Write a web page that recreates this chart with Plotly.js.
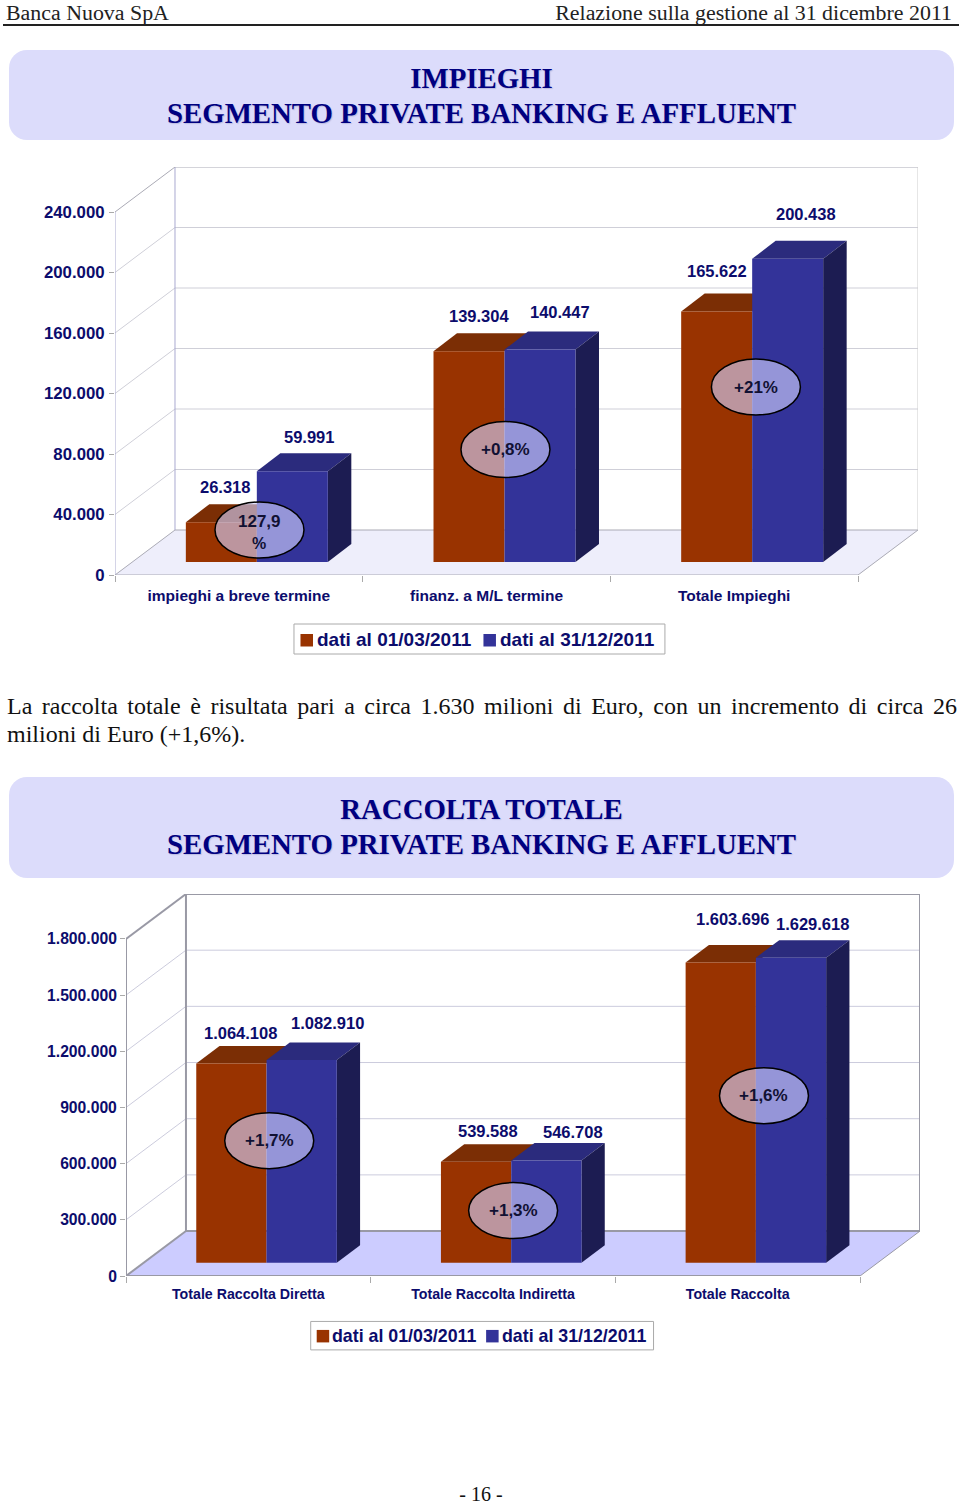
<!DOCTYPE html>
<html>
<head>
<meta charset="utf-8">
<script src="https://cdn.plot.ly/plotly-3.0.1.min.js"></script>
<style>
html, body { margin: 0; padding: 0; background: #fff; }
#page { position: relative; width: 960px; height: 1506px; overflow: hidden; font-family: "Liberation Serif", serif; color: #111; }
#page > div { position: absolute; }
.head { top: 1.5px; font-size: 21.9px; line-height: 22px; color: #222; }
.rule { left: 3px; right: 1px; top: 24px; height: 1.5px; background: #222; }
.banner { left: 9px; width: 945px; background: #dcdcfb; border-radius: 18px; text-align: center; color: #000080; font-weight: bold; font-size: 28.8px; line-height: 35px; text-shadow: 1px 1px 1px rgba(60,60,120,.2); box-sizing: border-box; }
.body { left: 7px; width: 950px; font-size: 24px; line-height: 27px; white-space: nowrap; }
.plot { left: 0; width: 960px; }
</style>
</head>
<body>
<div id="page">
  <div class="head" style="left:6px">Banca Nuova SpA</div>
  <div class="head" style="right:8px">Relazione sulla gestione al 31 dicembre 2011</div>
  <div class="rule"></div>
  <div class="banner" style="top:50px;height:90px;padding-top:11px">IMPIEGHI<br>SEGMENTO PRIVATE BANKING E AFFLUENT</div>
  <div class="plot" id="chart1" style="top:150px;height:520px"></div>
  <div class="body" style="top:693px;text-align:justify;text-align-last:justify;white-space:normal">La raccolta totale è risultata pari a circa 1.630 milioni di Euro, con un incremento di circa 26</div>
  <div class="body" style="top:721px">milioni di Euro (+1,6%).</div>
  <div class="banner" style="top:777px;height:101px;padding-top:15px">RACCOLTA TOTALE<br>SEGMENTO PRIVATE BANKING E AFFLUENT</div>
  <div class="plot" id="chart2" style="top:880px;height:480px"></div>
  <div style="left:0;width:960px;box-sizing:border-box;padding-left:2px;top:1484px;text-align:center;font-size:20px;line-height:20px">- 16 -</div>
</div>
<script>
const seriesNames = ["dati al 01/03/2011", "dati al 31/12/2011"];

const impieghiCategories = ["impieghi a breve termine", "finanz. a M/L termine", "Totale Impieghi"];
const impieghiMarzo = [26318, 139304, 165622];
const impieghiDicembre = [59991, 140447, 200438];
const impieghiTicks = [0, 40000, 80000, 120000, 160000, 200000, 240000];
const impieghiTickLabels = ["0", "40.000", "80.000", "120.000", "160.000", "200.000", "240.000"];
const impieghiDelta = ["127,9", "+0,8%", "+21%"];

const raccoltaCategories = ["Totale Raccolta Diretta", "Totale Raccolta Indiretta", "Totale Raccolta"];
const raccoltaMarzo = [1064108, 539588, 1603696];
const raccoltaDicembre = [1082910, 546708, 1629618];
const raccoltaTicks = [0, 300000, 600000, 900000, 1200000, 1500000, 1800000];
const raccoltaTickLabels = ["0", "300.000", "600.000", "900.000", "1.200.000", "1.500.000", "1.800.000"];
const raccoltaDelta = ["+1,7%", "+1,3%", "+1,6%"];

const navy = "#0c0c6c";
const orange = "#993300", orangeTop = "#7b2e05";
const blue = "#333399", blueTop = "#2b2b7d", blueSide = "#1c1c52";

function itNumber(v) {
    return String(v).replace(/\B(?=(\d{3})+$)/g, ".");
}

function drawChart(id, c) {
    const n = c.categories.length;
    const maxTick = c.ticks[c.ticks.length - 1];
    const pxPerUnit = (c.floorY - c.topY) / maxTick;
    const X = px => (px - c.left) / c.catW - 0.5;
    const Y = py => (c.floorY - py) / pxPerUnit;
    // il riquadro della legenda sta fuori dall'area del grafico: coordinate paper
    const plotW = n * c.catW + c.backDx, plotH = c.floorY - c.topY + c.backDy;
    const PX = px => (px - c.left) / plotW;
    const PY = py => (c.floorY - py) / plotH;

    const backX = c.backDx / c.catW, backY = c.backDy / pxPerUnit;
    const endX = n - 0.5;
    const base = c.baseDy / pxPerUnit;
    const barW = c.barW / c.catW, shift = c.shift / c.catW;
    const dX = c.depthX / c.catW, dY = c.depthY / pxPerUnit;

    const shapes = [];
    function poly(points, fill) {
        shapes.push({
            type: "path", layer: "below", xref: "x", yref: "y", fillcolor: fill,
            line: { width: 0 },
            path: "M" + points.map(p => p[0] + "," + p[1]).join("L") + "Z"
        });
    }
    function seg(x0, y0, x1, y1, color, width) {
        shapes.push({ type: "line", layer: "below", xref: "x", yref: "y", x0: x0, y0: y0, x1: x1, y1: y1, line: { color: color, width: width } });
    }

    // pavimento, pareti e griglia
    poly([[-0.5, 0], [endX, 0], [endX + backX, backY], [-0.5 + backX, backY]], c.floorColor);
    c.ticks.forEach(t => {
        if (t === 0 || t === maxTick) return;
        seg(-0.5, t, -0.5 + backX, t + backY, c.gridColor, 1);
        seg(-0.5 + backX, t + backY, endX + backX, t + backY, c.gridColor, 1);
    });
    seg(-0.5 + backX, backY, endX + backX, backY, c.edgeColor, c.backWidth);
    seg(-0.5 + backX, maxTick + backY, endX + backX, maxTick + backY, c.edgeColor, c.backWidth);
    seg(endX + backX, backY, endX + backX, maxTick + backY, c.rightColor, c.backWidth);
    seg(-0.5 + backX, backY, -0.5 + backX, maxTick + backY, c.leftColor, c.backWidth);
    seg(-0.5, maxTick, -0.5 + backX, maxTick + backY, c.edgeColor, c.backWidth);
    seg(-0.5, 0, -0.5 + backX, backY, c.edgeColor, c.backWidth);
    seg(endX, 0, endX + backX, backY, c.edgeColor, 1);
    seg(-0.5, 0, -0.5, maxTick, c.leftColor, c.backWidth);
    seg(-0.5, 0, endX, 0, c.edgeColor, c.backWidth);

    // facce laterali e superiori dei cilindri 3D
    for (let i = 0; i < n; i++) {
        const xL = i + shift - barW, xM = i + shift, xR = i + shift + barW;
        const t1 = base + c.first[i], t2 = base + c.second[i];
        poly([[xL, t1], [xL + dX, t1 + dY], [xM + dX, t1 + dY], [xM, t1]], orangeTop);
        poly([[xM, t2], [xM + dX, t2 + dY], [xR + dX, t2 + dY], [xR, t2]], blueTop);
        poly([[xR, base], [xR + dX, base + dY], [xR + dX, t2 + dY], [xR, t2]], blueSide);
    }

    const annotations = [];
    for (let i = 0; i < n; i++) {
        [c.first, c.second].forEach((vals, s) => {
            const off = c.labelShift[i][s];
            annotations.push({
                x: i + shift + (s === 0 ? -barW / 2 : barW / 2), y: base + vals[i],
                xref: "x", yref: "y", text: itNumber(vals[i]), showarrow: false,
                xshift: off[0], yshift: -off[1], xanchor: "center", yanchor: "middle",
                font: { family: "Liberation Sans", size: c.labelSize, color: navy, weight: 700 }
            });
        });
    }

    // ellissi con la variazione percentuale
    c.delta.forEach((txt, i) => {
        const e = c.ellipses[i];
        shapes.push({
            type: "circle", layer: "above", xref: "x", yref: "y",
            x0: X(e[0] - 44.5), x1: X(e[0] + 44.5), y0: Y(e[1] + 28), y1: Y(e[1] - 28),
            fillcolor: "rgba(210,210,255,0.62)", line: { color: "#000", width: 1.5 }
        });
        annotations.push({
            x: X(e[0]), y: Y(e[1] + e[2]), xref: "x", yref: "y", text: txt, showarrow: false,
            font: { family: "Liberation Sans", size: 17, color: "#111133", weight: 700 }
        });
        if (e[3]) annotations.push({
            x: X(e[0]), y: Y(e[1] + e[3]), xref: "x", yref: "y", text: "%", showarrow: false,
            font: { family: "Liberation Sans", size: 16, color: "#111133", weight: 700 }
        });
    });

    // legenda: riquadro, quadratini e testi
    const lg = c.legend;
    shapes.push({
        type: "rect", layer: "above", xref: "paper", yref: "paper",
        x0: PX(lg.box[0]), x1: PX(lg.box[1]), y0: PY(lg.box[3]), y1: PY(lg.box[2]),
        fillcolor: "#fff", line: { color: "#aaa", width: 1 }
    });
    seriesNames.forEach((name, s) => {
        shapes.push({
            type: "rect", layer: "above", xref: "paper", yref: "paper",
            x0: PX(lg.swatch[s]), x1: PX(lg.swatch[s] + 12.5), y0: PY(lg.midY + 6.5), y1: PY(lg.midY - 6),
            fillcolor: s === 0 ? orange : blue, line: { width: 0 }
        });
        annotations.push({
            x: PX(lg.text[s]), y: PY(lg.midY), xref: "paper", yref: "paper", text: name, showarrow: false,
            xanchor: "left", yanchor: "middle", borderpad: 0, borderwidth: 0,
            font: { family: "Liberation Sans", size: lg.size, color: navy, weight: 700 }
        });
    });

    const traces = [c.first, c.second].map((vals, s) => ({
        type: "bar",
        name: seriesNames[s],
        x: vals.map((v, i) => i + shift + (s === 0 ? -barW / 2 : barW / 2)),
        y: vals,
        base: base,
        width: barW,
        marker: { color: s === 0 ? orange : blue, line: { width: 0 } },
        hoverinfo: "skip"
    }));

    const w = 960, h = c.height;
    const layout = {
        width: w, height: h, paper_bgcolor: "#fff", plot_bgcolor: "#fff",
        showlegend: false, barmode: "overlay",
        margin: {
            l: c.left, r: w - (c.left + n * c.catW + c.backDx),
            t: c.topY - c.backDy - c.divTop, b: h - (c.floorY - c.divTop), pad: 0
        },
        xaxis: {
            range: [-0.5, endX + backX], showgrid: false, zeroline: false, showline: false,
            tickmode: "array", tickvals: c.categories.map((_, i) => i), ticktext: c.categories,
            ticks: "", ticklabelstandoff: c.xStandoff, fixedrange: true,
            tickfont: { family: "Liberation Sans", size: c.catSize, color: navy, weight: 700 },
            minor: { tickmode: "array", tickvals: [-0.5, 0.5, 1.5, 2.5], ticks: "outside", ticklen: 6, tickcolor: "#aaa", tickwidth: 1, showgrid: false }
        },
        yaxis: {
            range: [0, maxTick + backY], showgrid: false, zeroline: false, showline: false,
            tickmode: "array", tickvals: c.ticks, ticktext: c.tickLabels,
            ticks: "outside", ticklen: 5, tickcolor: "#aaa", tickwidth: 1, fixedrange: true,
            ticklabelstandoff: c.yStandoff,
            tickfont: { family: "Liberation Sans", size: c.tickSize, color: navy, weight: 700 }
        },
        shapes: shapes,
        annotations: annotations
    };
    Plotly.newPlot(id, traces, layout, { displayModeBar: false });
}

drawChart("chart1", {
    categories: impieghiCategories, first: impieghiMarzo, second: impieghiDicembre,
    ticks: impieghiTicks, tickLabels: impieghiTickLabels, delta: impieghiDelta,
    divTop: 150, height: 520, left: 114.5, catW: 247.7, floorY: 575, topY: 212,
    backDx: 60, backDy: 45, baseDy: 13, barW: 71, shift: 18, depthX: 23.5, depthY: 18,
    floorColor: "#eeeefb", gridColor: "#cfcfd8", edgeColor: "#aaaab5", leftColor: "#a9a9d0", rightColor: "#cccccc", backWidth: 1,
    labelSize: 16.5, tickSize: 16.8, catSize: 15.5, xStandoff: 9, yStandoff: 1,
    legend: { box: [293.5, 664.5, 624, 654], swatch: [300, 483], text: [316.5, 500], midY: 640, size: 19 },
    labelShift: [[[4, -35], [17, -34]], [[10, -35], [19.5, -38]], [[0, -41], [18.5, -45]]],
    ellipses: [[259, 530, -9, 13], [505, 449.5, 0], [755.5, 387, 0]]
});

drawChart("chart2", {
    categories: raccoltaCategories, first: raccoltaMarzo, second: raccoltaDicembre,
    ticks: raccoltaTicks, tickLabels: raccoltaTickLabels, delta: raccoltaDelta,
    divTop: 880, height: 480, left: 125.7, catW: 244.8, floorY: 1276.5, topY: 939,
    backDx: 60, backDy: 45, baseDy: 13.2, barW: 70.3, shift: 18.2, depthX: 23.3, depthY: 17.5,
    floorColor: "#ccccff", gridColor: "#ccccdd", edgeColor: "#9999a5", leftColor: "#9999a5", rightColor: "#9999a5", backWidth: 2,
    labelSize: 16.5, tickSize: 15.7, catSize: 14.2, xStandoff: 8, yStandoff: 0,
    legend: { box: [310.5, 653.5, 1322, 1350.5], swatch: [316.5, 486], text: [331.5, 501.5], midY: 1336.5, size: 17.8 },
    labelShift: [[[9.5, -31], [25.5, -37]], [[12, -31], [27, -28]], [[12, -44], [21.5, -34]]],
    ellipses: [[269, 1141, 0], [513, 1211, 0], [764, 1096, 0]]
});
</script>
</body>
</html>
